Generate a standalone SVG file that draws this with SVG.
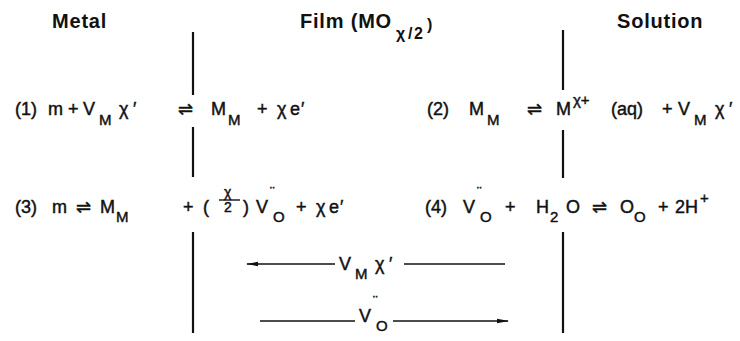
<svg xmlns="http://www.w3.org/2000/svg" width="740" height="341" viewBox="0 0 740 341">
<style>
.h{font-family:"Liberation Sans",Arial,sans-serif;font-weight:bold;font-size:20px;fill:#111;letter-spacing:0.8px}
.hs{font-size:16px;letter-spacing:0}
.t{font-family:"Liberation Sans","DejaVu Sans",Arial,sans-serif;font-size:18px;fill:#111;stroke:#111;stroke-width:0.45}
.s{font-size:15px}
.f{font-size:14px}
.b{stroke:#111;stroke-width:2.2;fill:none}
.c{stroke:#111;stroke-width:1.6;fill:none}
</style>
<defs>
<marker id="ah" viewBox="0 0 12 6" refX="11" refY="3" markerWidth="12" markerHeight="6" markerUnits="userSpaceOnUse" orient="auto">
<path d="M0,0.8 L12,3 L0,5.2 Z" fill="#111"/>
</marker>
</defs>
<rect width="740" height="341" fill="#fff"/>

<g id="header-metal"><text class="h" x="52" y="28">Metal</text></g>
<g id="header-film"><text class="h" x="300" y="28">Film (MO<tspan class="hs" x="396" y="39">χ</tspan><tspan class="hs" x="408" y="39">/</tspan><tspan class="hs" x="414" y="39">2</tspan><tspan class="hs" x="427" y="30">)</tspan></text></g>
<g id="header-solution"><text class="h" x="617" y="28">Solution</text></g>

<g id="interface-metal-film">
<line class="b" x1="193" y1="32" x2="193" y2="95"/>
<line class="b" x1="193" y1="127" x2="193" y2="177"/>
<line class="b" x1="193" y1="232" x2="193" y2="333"/>
</g>
<g id="interface-film-solution">
<line class="b" x1="563" y1="30" x2="563" y2="90"/>
<line class="b" x1="563" y1="130" x2="563" y2="178"/>
<line class="b" x1="563" y1="232" x2="563" y2="333"/>
</g>

<g id="reaction-1">
<text class="t" y="115"><tspan x="15">(1)</tspan><tspan x="48">m</tspan><tspan x="68">+</tspan><tspan x="83">V</tspan><tspan class="s" x="99" y="125">M</tspan><tspan x="119" y="115">χ</tspan><tspan x="133">′</tspan><tspan x="178">⇌</tspan><tspan x="211">M</tspan><tspan class="s" x="228" y="125">M</tspan><tspan x="257" y="115">+</tspan><tspan x="277">χ</tspan><tspan x="290">e</tspan><tspan x="301">′</tspan></text>
</g>

<g id="reaction-2">
<text class="t" y="115"><tspan x="427">(2)</tspan><tspan x="469">M</tspan><tspan class="s" x="487" y="125">M</tspan><tspan x="527" y="115">⇌</tspan><tspan x="556">M</tspan><tspan class="s" x="573" y="105">χ+</tspan><tspan x="611" y="115">(aq)</tspan><tspan x="662">+</tspan><tspan x="678">V</tspan><tspan class="s" x="694" y="125">M</tspan><tspan x="715" y="115">χ</tspan><tspan x="729">′</tspan></text>
</g>

<g id="reaction-3">
<text class="t" y="213"><tspan x="15">(3)</tspan><tspan x="52">m</tspan><tspan x="76">⇌</tspan><tspan x="100">M</tspan><tspan class="s" x="116" y="222">M</tspan><tspan x="183" y="213">+</tspan><tspan x="203">(</tspan><tspan class="f" x="224" y="197">χ</tspan><tspan class="f" x="224" y="212">2</tspan><tspan x="243" y="213">)</tspan><tspan x="256">V</tspan><tspan class="f" x="270" y="197">¨</tspan><tspan class="s" x="273" y="222">O</tspan><tspan x="296" y="213">+</tspan><tspan x="316">χ</tspan><tspan x="329">e</tspan><tspan x="340">′</tspan></text>
<line x1="219" y1="200" x2="240" y2="200" stroke="#111" stroke-width="1.4"/>
</g>

<g id="reaction-4">
<text class="t" y="213"><tspan x="425">(4)</tspan><tspan x="463">V</tspan><tspan class="f" x="477" y="197">¨</tspan><tspan class="s" x="480" y="222">O</tspan><tspan x="505" y="213">+</tspan><tspan x="536">H</tspan><tspan class="s" x="550" y="222">2</tspan><tspan x="566" y="213">O</tspan><tspan x="592">⇌</tspan><tspan x="620">O</tspan><tspan class="s" x="634" y="222">O</tspan><tspan x="658" y="213">+</tspan><tspan x="675">2H</tspan><tspan class="s" x="700" y="203">+</tspan></text>
</g>

<g id="connectors">
<g id="flux-vacancy-metal">
<line class="c" x1="335" y1="264" x2="247" y2="264" marker-end="url(#ah)"/>
<line class="c" x1="404" y1="264" x2="505" y2="264"/>
<text class="t" y="270"><tspan x="339">V</tspan><tspan class="s" x="355" y="279">M</tspan><tspan x="375" y="270">χ</tspan><tspan x="389">′</tspan></text>
</g>
<g id="flux-vacancy-oxygen">
<line class="c" x1="260" y1="321" x2="355" y2="321"/>
<line class="c" x1="393" y1="321" x2="508" y2="321" marker-end="url(#ah)"/>
<text class="t" y="322"><tspan x="359">V</tspan><tspan class="f" x="373" y="306">¨</tspan><tspan class="s" x="376" y="331">O</tspan></text>
</g>
</g>
</svg>
